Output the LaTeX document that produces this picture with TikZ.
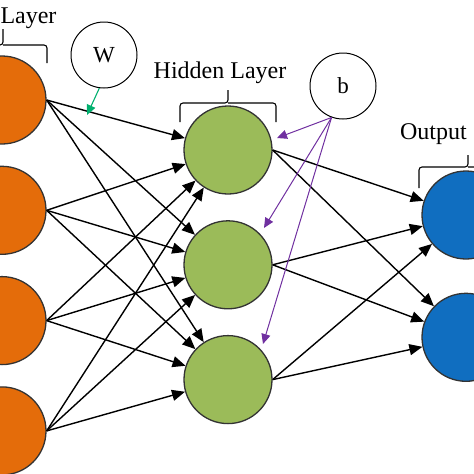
\documentclass[tikz,border=0pt]{standalone}
\usepackage{fontspec}
\setmainfont{Liberation Serif}
\usepackage{tikz}
\usetikzlibrary{arrows.meta, positioning}
\definecolor{inorange}{RGB}{228,108,10}
\definecolor{hidgreen}{RGB}{155,187,89}
\definecolor{outblue}{RGB}{16,110,192}
\definecolor{biaspurple}{RGB}{112,48,160}
\definecolor{wgtgreen}{RGB}{0,176,110}
\tikzset{%
	neuron/.style={draw=black!80, line width=1.3pt, circle, minimum size=88pt, inner sep=0pt},
	inp/.style={neuron, fill=inorange},
	hid/.style={neuron, fill=hidgreen},
	outp/.style={neuron, fill=outblue},
	param/.style={draw, line width=1pt, circle, minimum size=66pt, inner sep=0pt,%
		font=\fontsize{23}{27}\selectfont},
	lbl/.style={inner sep=0pt, font=\fontsize{24}{28}\selectfont},
	brk/.style={line width=1.1pt, rounded corners=3pt},
	sel/.style={-{Triangle[length=13pt, width=11pt]}, line width=1.4pt},
	bias/.style={-{Triangle[length=10pt, width=9pt]}, line width=1pt, draw=biaspurple},
	wsel/.style={-{Triangle[length=10pt, width=9pt]}, line width=1.1pt, draw=wgtgreen}
}
\begin{document}
\begin{tikzpicture}[x=1pt, y=-1pt, node distance=21pt]
			\useasboundingbox (0,0) rectangle (474,474);
			\clip (0,0) rectangle (474,474);
			\node[inp] (i1) at (2,100) {};
			\node[inp] (i2) [below=of i1] {};
			\node[inp] (i3) [below=of i2] {};
			\node[inp] (i4) [below=of i3] {};
			\node[hid] (h1) at (228,150) {};
			\node[hid, node distance=25.5pt] (h2) [below=of h1] {};
			\node[hid, node distance=25.5pt] (h3) [below=of h2] {};
			\node[outp] (o1) at (466,215) {};
			\node[outp, node distance=33pt] (o2) [below=of o1] {};
			\node[param] (W) at (104,55) {W};
			\node[param] (b) at (343,86) {b};
			\coordinate (wt) at (87,115);
			\coordinate (bt1) at (277,138);
			\coordinate (bt2) at (264,228);
			\coordinate (bt3) at (263,344);
			\node[lbl, anchor=base] (inl) at (28.5,23.5) {Layer};
			\node[lbl, anchor=base] (hidl) at (220,78) {Hidden Layer};
			\node[lbl, anchor=base] (outl) at (433.5,139) {Output};
			\draw [brk] (-41,63) |- (3,45) -- (3,29) (3,45) -| (47,63);
			\draw [brk] (180,122) |- (228,103) -- (228,90) (228,103) -| (276,122);
			\draw [brk] (419,188) |- (468,167) -- (468,155) (468,167) -| (517,188);
			\draw [sel] (i1.east) to (h1);
			\draw [sel] (i1.east) to (h2);
			\draw [sel] (i1.east) to (h3);
			\draw [sel] (i2.east) to (h1);
			\draw [sel] (i2.east) to (h2);
			\draw [sel] (i2.east) to (h3);
			\draw [sel] (i3.east) to (h1);
			\draw [sel] (i3.east) to (h2);
			\draw [sel] (i3.east) to (h3);
			\draw [sel] (i4.east) to (h1);
			\draw [sel] (i4.east) to (h2);
			\draw [sel] (i4.east) to (h3);
			\draw [sel] (h1.east) to (o1);
			\draw [sel] (h1.east) to (o2);
			\draw [sel] (h2.east) to (o1);
			\draw [sel] (h2.east) to (o2);
			\draw [sel] (h3.east) to (o1);
			\draw [sel] (h3.east) to (o2);
			\draw [wsel] (W.262) to (wt);
			\draw [bias] (b.250) to (bt1);
			\draw [bias] (b.250) to (bt2);
			\draw [bias] (b.250) to (bt3);
		\end{tikzpicture}
\end{document}
